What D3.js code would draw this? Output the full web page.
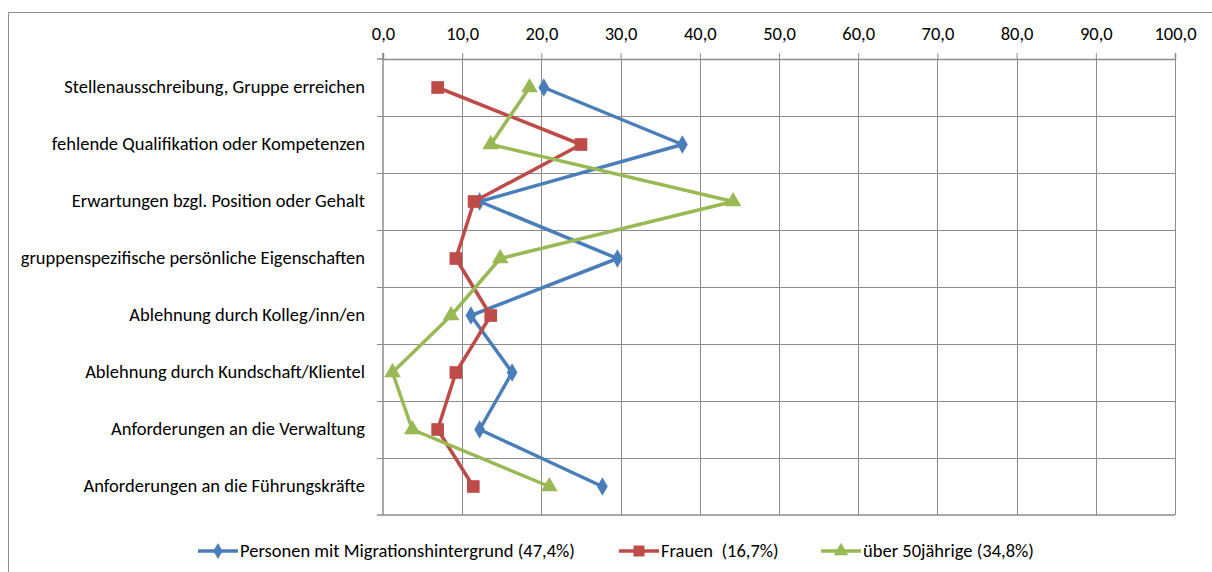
<!DOCTYPE html>
<html>
<head>
<meta charset="utf-8">
<script src="https://cdn.jsdelivr.net/npm/d3@7"></script>
<style>
  body { margin: 0; background: #fff; }
  text { font-family: Carlito, "Liberation Sans", Arial, sans-serif; fill: #000; white-space: pre; }
</style>
</head>
<body>
<div id="chart"></div>
<script>
const categories = [
    "Stellenausschreibung, Gruppe erreichen",
    "fehlende Qualifikation oder Kompetenzen",
    "Erwartungen bzgl. Position oder Gehalt",
    "gruppenspezifische persönliche Eigenschaften",
    "Ablehnung durch Kolleg/inn/en",
    "Ablehnung durch Kundschaft/Klientel",
    "Anforderungen an die Verwaltung",
    "Anforderungen an die Führungskräfte"
];
const migration = [20.3, 37.8, 12.2, 29.6, 11.1, 16.3, 12.2, 27.7];
const frauen = [6.9, 25.0, 11.5, 9.2, 13.6, 9.2, 6.9, 11.4];
const ueber50 = [18.5, 13.6, 44.2, 14.8, 8.6, 1.2, 3.7, 21.0];
const seriesNames = ["Personen mit Migrationshintergrund (47,4%)", "Frauen  (16,7%)", "über 50jährige (34,8%)"];
const xTicks = [0, 10, 20, 30, 40, 50, 60, 70, 80, 90, 100];

const W = 1212, H = 572;
const plot = {left: 383, right: 1175, top: 59, bottom: 515};
const fontSize = "18.5px";

const svg = d3.select("#chart").append("svg")
    .attr("width", W)
    .attr("height", H);

// outer chart frame (cut off at right and bottom)
svg.append("path")
    .attr("d", `M8.5,${H + 2} L8.5,12.5 L${W + 2},12.5`)
    .attr("fill", "none")
    .attr("stroke", "#8c8c8c")
    .attr("stroke-width", 1);

const x = d3.scaleLinear().domain([0, 100]).range([plot.left, plot.right]);
const y = d3.scaleBand().domain(categories).range([plot.top, plot.bottom]);

const grid = svg.append("g").attr("stroke", "#8c8c8c").attr("stroke-width", 1);

// vertical gridlines
grid.selectAll(".vg")
    .data(xTicks.slice(1))
    .enter()
    .append("line")
    .attr("x1", d => Math.round(x(d)) + 0.5)
    .attr("x2", d => Math.round(x(d)) + 0.5)
    .attr("y1", plot.top)
    .attr("y2", plot.bottom);

// horizontal gridlines between categories (with the small tick left of the axis)
grid.selectAll(".hg")
    .data(categories.slice(1))
    .enter()
    .append("line")
    .attr("x1", plot.left - 6)
    .attr("x2", plot.right)
    .attr("y1", d => Math.round(y(d)) + 0.5)
    .attr("y2", d => Math.round(y(d)) + 0.5);

// top value axis
const xAxis = svg.append("g")
    .attr("transform", `translate(0,${plot.top})`)
    .call(d3.axisTop(x).tickValues(xTicks).tickSize(6).tickPadding(13)
        .tickFormat(d => d3.format(".1f")(d).replace(".", ",")));
xAxis.select(".domain").attr("stroke", "#8c8c8c").attr("stroke-width", 1.5);
xAxis.selectAll(".tick line").attr("stroke", "#8c8c8c");
xAxis.selectAll(".tick text")
    .attr("font-size", fontSize)
    .attr("font-family", "Carlito, 'Liberation Sans', Arial, sans-serif");

// left category axis
const yAxis = svg.append("g")
    .attr("transform", `translate(${plot.left},0)`)
    .call(d3.axisLeft(y).tickSize(0).tickPadding(18));
yAxis.select(".domain").remove();
yAxis.append("line")
    .attr("x1", 0).attr("x2", 0)
    .attr("y1", plot.top - 6).attr("y2", plot.bottom)
    .attr("stroke", "#8c8c8c").attr("stroke-width", 1.5);
yAxis.append("line")
    .attr("x1", -6).attr("x2", 0)
    .attr("y1", plot.top).attr("y2", plot.top)
    .attr("stroke", "#8c8c8c").attr("stroke-width", 1.5);
yAxis.append("line")
    .attr("x1", -6).attr("x2", plot.right - plot.left)
    .attr("y1", plot.bottom).attr("y2", plot.bottom)
    .attr("stroke", "#8c8c8c").attr("stroke-width", 1.5);
yAxis.selectAll(".tick text")
    .attr("font-size", fontSize)
    .attr("font-family", "Carlito, 'Liberation Sans', Arial, sans-serif");

const series = [
    {name: seriesNames[0], values: migration, color: "#4a7ebb", marker: d3.symbolDiamond, size: 100},
    {name: seriesNames[1], values: frauen, color: "#be4b48", marker: d3.symbolSquare, size: 160},
    {name: seriesNames[2], values: ueber50, color: "#98b954", marker: d3.symbolTriangle, size: 120}
];

const line = d3.line()
    .x(d => x(d.v))
    .y(d => y(d.c) + y.bandwidth() / 2);

series.forEach(s => {
    const pts = s.values.map((v, i) => ({v: v, c: categories[i]}));
    svg.append("path")
        .datum(pts)
        .attr("d", line)
        .attr("fill", "none")
        .attr("stroke", s.color)
        .attr("stroke-width", 3.5)
        .attr("stroke-linejoin", "round");
    svg.append("g")
        .selectAll("path")
        .data(pts)
        .enter()
        .append("path")
        .attr("d", d3.symbol().type(s.marker).size(s.size))
        .attr("transform", d => `translate(${x(d.v)},${y(d.c) + y.bandwidth() / 2})`)
        .attr("fill", s.color);
});

// legend
const legendX = [198, 619, 821];
const legend = svg.append("g").attr("transform", "translate(0,551)");
series.forEach((s, i) => {
    const g = legend.append("g").attr("transform", `translate(${legendX[i]},0)`);
    g.append("line")
        .attr("x1", 0).attr("x2", 40)
        .attr("stroke", s.color).attr("stroke-width", 3.5);
    g.append("path")
        .attr("d", d3.symbol().type(s.marker).size(s.size * 0.75))
        .attr("transform", "translate(20,0)")
        .attr("fill", s.color);
    g.append("text")
        .attr("x", 42)
        .attr("dy", "0.35em")
        .attr("font-size", fontSize)
        .text(s.name);
});
</script>
</body>
</html>
